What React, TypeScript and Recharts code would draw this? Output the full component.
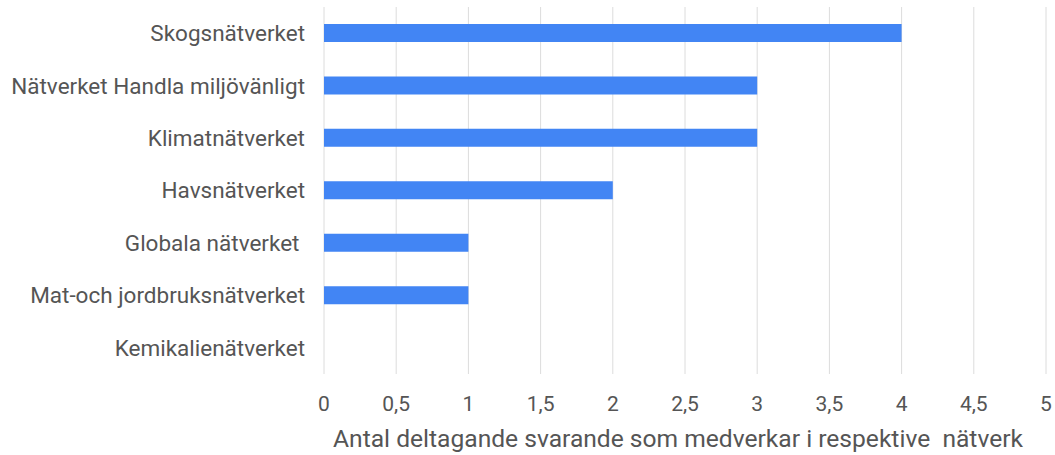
import { BarChart, Bar, XAxis, YAxis, CartesianGrid, Label } from 'recharts';

const networks = [
  'Skogsnätverket',
  'Nätverket Handla miljövänligt',
  'Klimatnätverket',
  'Havsnätverket',
  'Globala nätverket\u00A0',
  'Mat-och jordbruksnätverket',
  'Kemikalienätverket',
];
const participants = [4, 3, 3, 2, 1, 1, 0];
const xTicks = [0, 0.5, 1, 1.5, 2, 2.5, 3, 3.5, 4, 4.5, 5];
const axisTitle = 'Antal deltagande svarande som medverkar i respektive\u00A0 nätverk';

const data = networks.map((name, i) => ({ name, value: participants[i] }));

const font = 'Roboto, Arial, sans-serif';
const textColor = '#555555';

export default function App() {
  return (
    <div style={{ position: 'absolute', left: 0, top: 0 }}>
      <BarChart
        width={1055}
        height={455}
        data={data}
        layout="vertical"
        margin={{ top: 7, right: 9, bottom: 0, left: 0 }}
        style={{ fontFamily: font }}
      >
        <CartesianGrid horizontal={false} stroke="#dcdcdc" />
        <XAxis
          type="number"
          domain={[0, 5]}
          ticks={xTicks}
          axisLine={false}
          tickLine={false}
          tickSize={0}
          tickMargin={22}
          height={81}
          interval={0}
          tick={{ fill: textColor, fontSize: 21 }}
          tickFormatter={(v: number) => String(v).replace('.', ',')}
        >
          <Label
            value={axisTitle}
            position="insideBottom"
            offset={8}
            dx={-7}
            fill={textColor}
            fontSize={24.6}
          />
        </XAxis>
        <YAxis
          type="category"
          dataKey="name"
          width={324}
          axisLine={false}
          tickLine={false}
          tickSize={0}
          tickMargin={19}
          interval={0}
          tick={{ fill: textColor, fontSize: 22.5 }}
        />
        <Bar dataKey="value" fill="#4285f4" barSize={18} isAnimationActive={false} />
      </BarChart>
    </div>
  );
}
